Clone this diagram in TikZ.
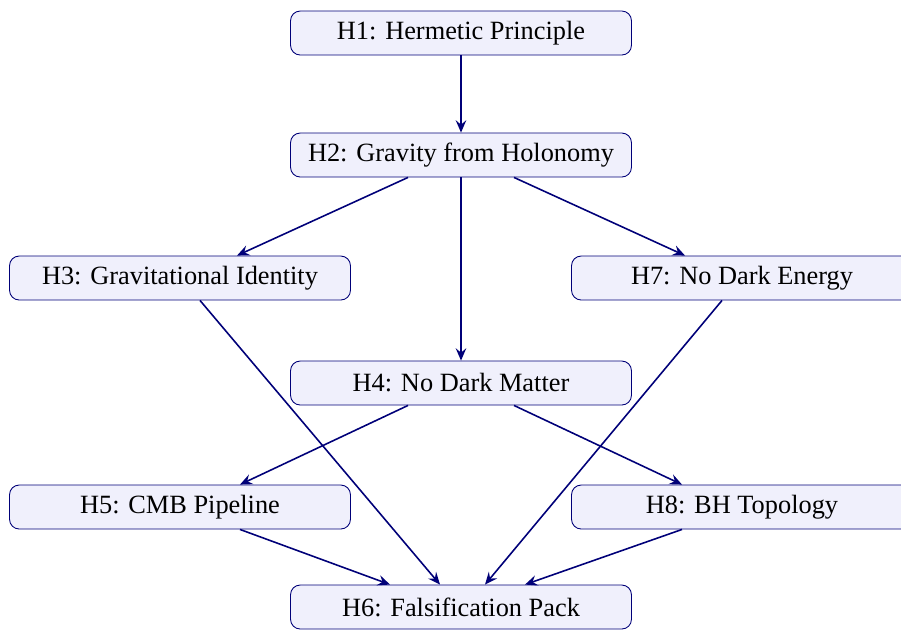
\documentclass[tikz,border=0pt]{standalone}
\usepackage{fontspec}
\setmainfont{Liberation Serif}
\usetikzlibrary{arrows.meta,calc}
\definecolor{edgeblue}{RGB}{0,0,120}
\definecolor{boxfill}{RGB}{240,240,252}
\tikzset{
  hbox/.style={draw=edgeblue, fill=boxfill, rounded corners=5.5pt, line width=0.5pt,
    minimum width=6.82cm, minimum height=0.88cm, inner sep=0pt, font=\fontsize{15}{18}\selectfont},
  link/.style={draw=edgeblue, line width=0.9pt, -{Stealth[length=7pt,width=6pt,inset=2.5pt]}}
}
\begin{document}
\begin{tikzpicture}[x=0.02cm,y=-0.02cm]
\useasboundingbox (0,0) rectangle (901,630);
\node[hbox] (h1) at (461,33) {H1: Hermetic Principle};
\node[hbox] (h2) at (461,155) {H2: Gravity from Holonomy};
\node[hbox] (h3) at (180,278) {H3: Gravitational Identity};
\node[hbox] (h7) at (742,278) {H7: No Dark Energy};
\node[hbox] (h4) at (461,383) {H4: No Dark Matter};
\node[hbox] (h5) at (180,507) {H5: CMB Pipeline};
\node[hbox] (h8) at (742,507) {H8: BH Topology};
\node[hbox] (h6) at (461,607) {H6: Falsification Pack};
\draw[link] (h1.south) -- (h2.north);
\draw[link] ($(h2.south)+(-53,0)$) -- ($(h3.north)+(57,0)$);
\draw[link] (h2.south) -- (h4.north);
\draw[link] ($(h2.south)+(53,0)$) -- ($(h7.north)+(-57,0)$);
\draw[link] ($(h4.south)+(-53,0)$) -- ($(h5.north)+(60,0)$);
\draw[link] ($(h4.south)+(53,0)$) -- ($(h8.north)+(-60,0)$);
\draw[link] ($(h3.south)+(20,0)$) -- ($(h6.north)+(-21,0)$);
\draw[link] ($(h7.south)+(-20,0)$) -- ($(h6.north)+(24,0)$);
\draw[link] ($(h5.south)+(60,0)$) -- ($(h6.north)+(-71,0)$);
\draw[link] ($(h8.south)+(-60,0)$) -- ($(h6.north)+(64,0)$);
\end{tikzpicture}
\end{document}
